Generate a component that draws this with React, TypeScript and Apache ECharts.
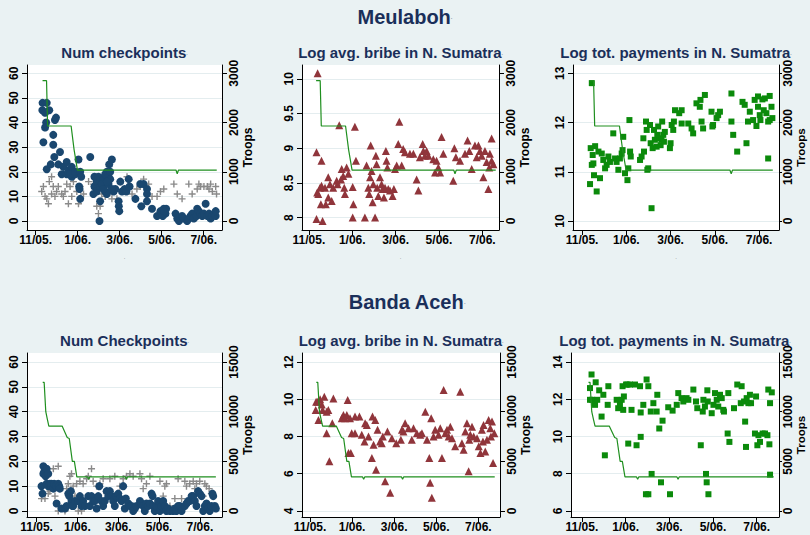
import React, { useEffect, useRef } from 'react';
import * as echarts from 'echarts';

// ---------- tick labels ----------
const monthTicks = [0, 2, 4, 6, 8];
const monthTickLabels = ['11/05.', '1/06.', '3/06.', '5/06.', '7/06.'];
const ticksCheckpoints = [0, 10, 20, 30, 40, 50, 60];
const ticksBribeTop = [8, 8.5, 9, 9.5, 10];
const ticksPaymentsTop = [10, 11, 12, 13];
const ticksBribeBottom = [4, 6, 8, 10, 12];
const ticksPaymentsBottom = [6, 8, 10, 12, 14];
const ticksTroopsTop = [0, 1000, 2000, 3000];
const ticksTroopsBottom = [0, 5000, 10000, 15000];

const rowTitles = ['Meulaboh', 'Banda Aceh'];
const panelTitles = [
  'Num checkpoints', 'Log avg. bribe in N. Sumatra', 'Log tot. payments in N. Sumatra',
  'Num Checkpoints', 'Log avg. bribe in N. Sumatra', 'Log tot. payments in N. Sumatra',
];

// ---------- data (x = months since Nov 1, 2005) ----------
const checkpointsMeulaboh = [
  [0.33,48],[0.53,48],[0.32,45],[0.65,45],[0.45,44],[0.50,40],[0.45,38],[0.37,32],[0.53,21],[0.72,23],
  [0.92,41],[0.97,42],[0.84,35],[0.84,31],[0.89,26],[1.16,28],[1.08,23],[1.32,22],[1.24,19],[1.48,24],
  [1.48,19],[1.64,21],[1.72,18],[1.80,20],[1.88,19],[1.56,20],[1.64,19],[1.72,22],[1.88,20],[2.04,25],
  [2.07,14],[2.09,13],[2.12,9],[2.12,20],[2.17,18],[2.60,26],[2.80,18],[2.80,14],[2.75,11],[2.91,16],
  [2.99,18],[2.91,12],[3.07,8],[3.04,0],[3.07,14],[3.23,17],[3.31,12],[3.39,11],[3.39,20],[3.47,18],
  [3.50,23],[3.63,25],[3.55,17],[3.71,12],[3.79,13],[3.15,15],[3.23,13],[3.31,19],[3.47,15],[3.55,20],
  [3.63,13],[3.39,16],[3.95,8],[3.96,6],[3.98,4],[4.03,16],[4.11,12],[4.24,13],[4.32,12],[4.43,17],
  [4.47,14],[4.75,9],[4.98,15],[5.14,15],[5.03,6],[5.30,13],[5.30,11],[5.30,8],[5.54,5],[5.78,2],
  [5.94,4],[6.10,5],[6.02,3],[6.18,3],[6.21,5],[6.05,2],[6.12,4],[6.66,3],[6.74,1],[6.82,0],
  [6.97,2],[7.05,1],[7.21,0],[7.29,1],[7.37,2],[7.45,3],[7.53,1],[7.66,2],[7.69,5],[7.77,4],
  [7.85,3],[7.93,2],[8.01,3],[8.09,7],[8.17,2],[8.25,3],[8.33,1],[8.41,2],[8.49,3],[8.57,2],[8.57,4],
];
const otherCheckpointsMeulaboh = [
  [0.29,12],[0.37,14],[0.45,10],[0.53,9],[0.61,7],[0.65,16],[0.76,18],[0.76,11],[0.84,14],[0.92,10],
  [1.00,12],[1.08,14],[1.24,11],[1.32,10],[1.40,12],[1.48,15],[1.56,7],[1.64,14],[1.72,10],[1.80,16],
  [1.96,12],[2.04,7],[2.12,14],[2.28,11],[2.52,16],[2.75,15],[2.91,6],[2.99,3],[3.07,6],[3.15,11],
  [3.31,10],[3.47,12],[3.63,9],[3.79,13],[3.87,9],[4.35,18],[4.59,11],[4.82,13],[4.98,14],[5.14,17],
  [5.38,15],[5.54,10],[5.78,10],[5.94,12],[6.10,13],[6.58,15],[6.74,11],[6.97,9],[7.29,15],[7.45,11],
  [7.69,13],[7.77,15],[7.85,14],[8.01,14],[8.17,14],[8.25,13],[8.33,15],[8.41,12],[8.57,14],[8.61,11],
];
const bribeMeulaboh = [
  [0.40,10.08],[0.35,8.94],[0.38,8.36],[0.43,8.34],[0.51,8.43],[0.58,8.82],[0.58,8.46],[0.55,8.19],[0.35,7.98],[0.63,7.95],
  [0.74,8.43],[0.78,8.19],[0.89,8.58],[0.89,8.29],[0.97,8.48],[1.05,8.24],[1.12,8.43],[1.28,8.53],[1.32,8.48],[1.40,9.33],
  [1.48,8.55],[1.51,8.70],[1.58,8.60],[1.63,8.43],[1.66,8.34],[1.74,8.72],[1.82,8.63],[2.02,8.44],[2.05,8.19],[2.02,8.0],
  [2.12,9.31],[2.17,8.82],[2.58,8.0],[2.66,8.75],[2.74,8.43],[2.78,8.34],[2.82,8.58],[2.85,9.04],[2.89,8.67],[2.94,8.22],
  [2.97,8.48],[3.05,8.0],[3.09,8.89],[3.12,8.77],[3.15,8.43],[3.2,8.31],[3.28,8.58],[3.35,8.48],[3.4,8.41],[3.46,8.29],
  [3.51,8.43],[3.55,8.96],[3.58,8.82],[3.62,8.72],[3.66,8.41],[3.74,8.39],[3.86,8.31],[3.92,8.41],[3.97,8.70],[4.05,8.75],
  [4.12,9.06],[4.17,9.38],[4.28,8.75],[4.35,8.99],[4.43,8.94],[4.66,8.92],[4.82,8.92],[4.97,8.55],[5.05,8.39],[5.12,8.87],
  [5.25,9.06],[5.28,8.96],[5.35,8.89],[5.43,8.96],[5.51,8.89],[5.74,8.84],[5.82,8.65],[5.89,8.82],[5.97,8.72],[6.05,8.65],
  [6.12,9.16],[6.2,8.92],[6.66,8.53],[6.71,9.0],[6.78,8.87],[6.97,8.82],[7.2,8.92],[7.32,9.11],[7.4,8.96],[7.51,8.70],
  [7.66,9.04],[7.74,8.87],[7.82,9.04],[7.89,8.96],[7.97,8.89],[8.05,8.58],[8.12,8.96],[8.2,8.80],[8.28,8.41],[8.32,8.72],
  [8.35,8.92],[8.43,9.14],[8.43,8.82],[8.51,8.77],
];
const paymentsMeulaboh = [
  [0.44,12.8],[0.39,11.48],[0.48,11.34],[0.44,11.14],[0.51,11.17],[0.36,10.75],[0.54,10.93],[0.66,10.6],[0.59,11.52],[0.74,11.41],
  [0.81,10.87],[0.89,11.37],[0.96,11.24],[1.04,11.07],[1.11,11.14],[1.19,11.31],[1.26,11.2],[1.41,11.78],[1.49,11.27],[1.56,11.2],
  [1.64,11.04],[1.71,11.27],[1.79,11.37],[1.83,11.44],[1.86,11.71],[1.94,10.97],[2.05,10.83],[2.09,11.07],[2.14,12.05],[2.17,11.41],
  [2.2,11.31],[2.62,11.24],[2.69,11.31],[2.77,11.68],[2.8,11.41],[2.89,12.02],[2.92,11.85],[2.95,11.04],[2.99,11.07],[3.07,11.95],
  [3.1,11.58],[3.14,10.26],[3.19,11.48],[3.25,11.85],[3.29,11.65],[3.37,11.51],[3.40,11.75],[3.44,11.92],[3.52,11.68],[3.55,11.54],
  [3.59,11.65],[3.62,12.02],[3.67,11.75],[3.7,11.61],[3.74,11.81],[3.97,11.48],[4.0,11.58],[4.05,11.95],[4.12,11.85],[4.15,12.02],
  [4.2,12.25],[4.39,12.19],[4.5,12.25],[4.5,11.98],[4.8,11.98],[4.95,11.88],[5.02,11.78],[5.17,12.39],[5.32,12.32],[5.35,12.46],
  [5.4,12.02],[5.47,11.88],[5.55,12.56],[5.85,12.22],[5.89,11.92],[5.92,11.95],[6.08,12.09],[6.15,12.15],[6.23,12.22],[6.75,12.59],
  [6.75,12.02],[6.83,11.75],[7.01,11.41],[7.25,12.42],[7.35,12.36],[7.43,11.58],[7.5,12.02],[7.58,12.22],[7.73,12.05],[7.8,12.46],
  [7.88,11.93],[7.95,12.53],[7.95,12.32],[8.03,12.15],[8.06,12.05],[8.15,12.47],[8.21,12.25],[8.26,12.49],[8.33,12.19],[8.41,12.02],
  [8.41,11.27],[8.48,12.54],[8.56,12.32],[8.6,12.09],[8.48,12.05],
];
const troopsMeulaboh = [
  [0.33,2850],[0.52,2850],[0.57,1930],[1.69,1930],[1.83,1450],[1.99,1035],[6.68,1035],[6.74,960],[6.80,1035],[8.62,1035],
];

const checkpointsBandaAceh = [
  [0.24,10],[0.29,7],[0.33,18],[0.38,16],[0.33,15],[0.44,14],[0.49,17],[0.57,15],[0.49,11],[0.57,10],
  [0.65,11],[0.73,10],[0.73,11],[0.82,9],[0.86,11],[0.95,10],[0.98,3],[1.06,11],[1.11,10],[1.14,9],
  [1.22,1],[1.39,1],[1.47,2],[1.55,7],[1.60,6],[1.68,8],[1.71,4],[1.76,2],[1.79,2],[1.88,4],
  [2.04,4],[2.12,6],[2.2,2],[2.28,4],[2.37,2],[2.53,6],[2.61,2],[2.69,6],[2.77,4],[2.85,4],
  [2.94,1],[3.02,6],[3.07,10],[3.18,4],[3.26,2],[3.34,4],[3.43,8],[3.51,6],[3.59,8],[3.67,6],
  [3.75,4],[3.83,2],[3.88,6],[4.0,7],[4.08,5],[4.16,4],[4.24,10],[4.32,1],[4.37,5],[4.49,3],
  [4.57,2],[4.65,2],[4.73,0],[4.81,1],[4.89,2],[5.06,4],[5.14,3],[5.22,2],[5.3,0],[5.38,3],
  [5.46,2],[5.55,3],[5.63,7],[5.68,6],[5.71,2],[5.79,0],[5.87,2],[5.95,4],[6.04,0],[6.12,2],
  [6.2,4],[6.28,2],[6.36,0],[6.44,1],[6.53,0],[6.69,0],[6.77,1],[6.85,0],[6.93,2],[7.01,2],
  [7.1,0],[7.26,2],[7.34,3],[7.42,4],[7.5,4],[7.59,6],[7.67,6],[7.75,4],[7.83,2],[7.91,8],
  [7.99,7],[8.08,6],[8.16,0],[8.24,2],[8.32,3],[8.4,1],[8.48,0],[8.56,2],[8.61,7],[8.65,6],[8.73,2],[8.78,1],
];
const otherCheckpointsBandaAceh = [
  [0.24,5],[0.41,5],[0.57,7],[0.65,8],[0.82,17],[0.90,6],[1.06,18],[1.06,0],[1.22,1],[1.39,0],
  [1.47,9],[1.55,11],[1.63,14],[1.71,15],[1.79,10],[1.88,6],[1.96,11],[2.04,0],[2.12,12],[2.2,0],
  [2.28,11],[2.45,13],[2.53,14],[2.69,17],[2.77,12],[2.94,10],[3.10,11],[3.26,13],[3.43,7],[3.59,13],
  [3.83,14],[4.0,7],[4.08,10],[4.24,13],[4.4,14],[4.57,15],[4.73,14],[5.06,15],[5.14,13],[5.22,9],
  [5.38,11],[5.55,14],[6.04,12],[6.2,6],[6.28,10],[6.36,11],[6.53,2],[6.77,5],[6.93,13],[7.1,5],
  [7.26,12],[7.34,10],[7.5,11],[7.67,12],[7.75,9],[7.83,11],[7.99,12],[8.16,6],[8.24,11],[8.32,10],
  [8.45,9],[8.56,7],[8.65,6],
];
const bribeBandaAceh = [
  [0.27,9.42],[0.29,9.87],[0.40,8.89],[0.37,9.87],[0.48,10.0],[0.56,9.72],[0.60,9.42],[0.68,10.13],[0.79,9.33],[0.87,9.42],
  [0.79,8.18],[0.92,6.67],[1.06,8.71],[1.11,10.04],[1.51,8.98],[1.59,9.16],[1.67,8.98],[1.75,9.16],[1.79,9.96],[1.83,7.11],
  [1.90,8.98],[1.94,7.11],[1.98,8.18],[2.14,8.18],[2.14,9.07],[2.35,9.07],[2.46,8.09],[2.59,7.73],[2.62,8.71],[2.70,8.62],
  [2.78,8.0],[2.94,6.84],[2.97,9.07],[3.02,7.56],[3.10,8.89],[3.14,6.22],[3.21,8.36],[3.33,7.73],[3.41,7.64],[3.46,8.0],
  [3.57,5.6],[3.68,8.27],[3.81,4.98],[3.89,7.91],[4.10,7.64],[4.32,7.82],[4.37,8.36],[4.44,8.27],[4.52,8.71],[4.68,8.44],
  [4.84,7.82],[4.92,8.44],[5.08,8.18],[5.24,8.09],[5.32,8.18],[5.48,9.33],[5.56,7.82],[5.67,6.84],[5.71,5.51],[5.76,8.98],
  [5.79,4.71],[5.87,8.0],[5.95,8.36],[6.11,8.09],[6.19,8.44],[6.27,6.84],[6.35,10.49],[6.43,8.18],[6.51,8.36],[6.59,8.0],
  [6.67,8.53],[6.75,7.91],[6.9,7.47],[7.14,10.4],[7.22,7.64],[7.3,7.29],[7.38,8.27],[7.46,8.71],[7.54,6.13],[7.57,7.82],
  [7.62,8.09],[7.70,8.53],[7.78,8.0],[7.94,7.91],[8.02,7.47],[8.10,7.11],[8.17,8.36],[8.22,7.73],[8.25,8.62],[8.33,7.2],
  [8.41,7.82],[8.49,8.89],[8.57,8.44],[8.60,8.0],[8.65,8.8],[8.70,6.58],[8.76,8.18],
];
const paymentsBandaAceh = [
  [0.37,12.6],[0.44,13.33],[0.37,11.97],[0.47,11.97],[0.56,11.79],[0.63,12.91],[0.6,11.7],[0.7,11.97],[0.79,12.48],[0.9,11.07],
  [0.98,12.24],[1.05,8.99],[1.18,11.7],[1.21,12.7],[1.59,11.97],[1.66,11.52],[1.74,11.7],[1.82,11.97],[1.86,12.7],[1.89,11.43],
  [1.92,12.15],[2.02,12.79],[2.08,12.79],[2.12,9.62],[2.2,12.79],[2.27,11.43],[2.43,12.79],[2.5,9.53],[2.66,12.7],[2.69,11.29],
  [2.69,9.98],[2.81,11.7],[2.96,13.06],[3.04,12.7],[2.93,6.9],[3.04,6.9],[3.15,11.34],[3.19,7.99],[3.27,11.79],[3.42,11.34],
  [3.45,12.24],[3.54,10.43],[3.62,7.54],[3.69,10.85],[3.95,11.57],[4.03,6.9],[4.15,11.39],[4.34,11.7],[4.41,12.33],[4.56,12.06],
  [4.64,11.88],[4.79,12.06],[4.87,11.97],[5.1,12.52],[5.22,11.88],[5.28,11.52],[5.44,9.53],[5.53,11.34],[5.56,11.97],[5.63,11.61],
  [5.68,7.99],[5.71,7.54],[5.74,12.48],[5.79,6.9],[5.76,11.88],[5.94,11.25],[6.02,11.7],[6.09,12.33],[6.17,11.97],[6.24,11.61],
  [6.32,12.24],[6.4,12.06],[6.47,11.43],[6.5,11.34],[6.67,10.16],[6.7,12.33],[6.75,9.71],[6.96,11.52],[7.11,12.79],[7.31,12.7],
  [7.27,11.79],[7.42,11.88],[7.47,10.8],[7.51,9.44],[7.54,12.06],[7.62,11.79],[7.69,12.24],[7.74,11.79],[7.92,10.16],[7.97,12.15],
  [8.03,9.53],[8.08,10.07],[8.15,9.71],[8.27,10.16],[8.38,10.16],[8.49,10.07],[8.53,12.52],[8.58,9.58],[8.61,11.79],[8.69,12.37],[8.61,7.95],
];
const troopsBandaAceh = [
  [0.30,12950],[0.37,12950],[0.45,10000],[0.52,9300],[0.60,8550],[1.25,8550],[1.50,7400],[1.60,7300],[1.75,5000],[1.85,5000],
  [1.97,3430],[2.50,3430],[2.55,3200],[2.60,3430],[4.35,3430],[4.40,3200],[4.45,3430],[8.78,3430],
];

// ---------- styling ----------
const FONT = "'Liberation Sans', Arial, Helvetica, sans-serif";
const BG = '#eaf2f3';
const NAVY = '#1a2f5a';
const BLUE = '#1a476f';
const MAROON = '#90353b';
const GREEN = '#0b8a0b';
const LINE_GREEN = '#1f8f1f';
const GRAY = '#8a8a8a';
const PLUS = 'path://M4,0L6,0L6,4L10,4L10,6L6,6L6,10L4,10L4,6L0,6L0,4L4,4Z';

function extend(lo: number, hi: number, ft: number, fb: number): [number, number] {
  const s = hi - lo;
  return [lo - fb * s, hi + ft * s];
}

const rowMargins = [
  { ft: 0.0562, fb: 0.0609 },
  { ft: 0.0604, fb: 0.0403 },
];

const panels = [
  { row: 0, col: 0, grid: { left: 27, top: 65, width: 195, height: 165 }, x: [-0.41, 8.87], left: [0, 60], lt: ticksCheckpoints, right: [0, 3000], rt: ticksTroopsTop,
    scatter: [
      { data: otherCheckpointsMeulaboh, symbol: PLUS, size: 7, color: GRAY },
      { data: checkpointsMeulaboh, symbol: 'circle', size: 8, color: BLUE },
    ], troops: troopsMeulaboh },
  { row: 0, col: 1, grid: { left: 302, top: 65, width: 197, height: 165 }, x: [-0.32, 8.77], left: [7.95, 10.08], lt: ticksBribeTop, right: [0, 3000], rt: ticksTroopsTop,
    scatter: [{ data: bribeMeulaboh, symbol: 'triangle', size: 8, color: MAROON }], troops: troopsMeulaboh },
  { row: 0, col: 2, grid: { left: 573, top: 65, width: 206, height: 165 }, x: [-0.41, 8.9], left: [10, 13], lt: ticksPaymentsTop, right: [0, 3000], rt: ticksTroopsTop,
    scatter: [{ data: paymentsMeulaboh, symbol: 'rect', size: 6, color: GREEN }], troops: troopsMeulaboh },
  { row: 1, col: 0, grid: { left: 27, top: 353, width: 195, height: 164 }, x: [-0.47, 9.08], left: [0, 60], lt: ticksCheckpoints, right: [0, 15000], rt: ticksTroopsBottom,
    scatter: [
      { data: otherCheckpointsBandaAceh, symbol: PLUS, size: 7, color: GRAY },
      { data: checkpointsBandaAceh, symbol: 'circle', size: 8, color: BLUE },
    ], troops: troopsBandaAceh },
  { row: 1, col: 1, grid: { left: 302, top: 353, width: 198, height: 164 }, x: [-0.38, 9.03], left: [4, 12], lt: ticksBribeBottom, right: [0, 15000], rt: ticksTroopsBottom,
    scatter: [{ data: bribeBandaAceh, symbol: 'triangle', size: 8, color: MAROON }], troops: troopsBandaAceh },
  { row: 1, col: 2, grid: { left: 571, top: 353, width: 208, height: 164 }, x: [-0.5, 9.02], left: [6, 14], lt: ticksPaymentsBottom, right: [0, 15000], rt: ticksTroopsBottom,
    scatter: [{ data: paymentsBandaAceh, symbol: 'rect', size: 6, color: GREEN }], troops: troopsBandaAceh },
];

function buildOption() {
  const grids: any[] = [];
  const xAxes: any[] = [];
  const yAxes: any[] = [];
  const series: any[] = [];
  const titles: any[] = [];

  const axisLine = { show: true, onZero: false, lineStyle: { color: '#000', width: 1 } };
  const labelBase = { color: '#000', fontFamily: FONT, fontWeight: 'bold', fontSize: 12 };
  const dotStyle = { fontSize: 6, color: '#8894a8', fontFamily: FONT };

  titles.push({
    text: `{t|${rowTitles[0]}}{d|.}`, left: 405, top: 7, textAlign: 'center', padding: 0,
    textStyle: { rich: { t: { fontFamily: FONT, fontWeight: 'bold', fontSize: 20, color: NAVY }, d: dotStyle } },
  });
  titles.push({
    text: `{t|${rowTitles[1]}}{d|.}`, left: 407, top: 292, textAlign: 'center', padding: 0,
    textStyle: { rich: { t: { fontFamily: FONT, fontWeight: 'bold', fontSize: 20, color: NAVY }, d: dotStyle } },
  });

  panels.forEach((p, i) => {
    const m = rowMargins[p.row];
    const lastCol = p.col === 2;
    grids.push({ ...p.grid, show: true, backgroundColor: '#ffffff', borderWidth: 0, containLabel: false, outerBoundsMode: 'none' });
    titles.push({
      text: `{t|${panelTitles[i]}}{d|.}`,
      left: p.grid.left + p.grid.width / 2, top: p.row === 0 ? 45 : 333, textAlign: 'center', padding: 0,
      textStyle: { rich: { t: { fontFamily: FONT, fontWeight: 'bold', fontSize: 15, color: NAVY }, d: { ...dotStyle, fontSize: 5 } } },
    });
    xAxes.push({
      gridIndex: i, type: 'value', min: p.x[0], max: p.x[1],
      axisLine,
      axisTick: { show: true, customValues: monthTicks, length: 5, lineStyle: { color: '#000' } },
      axisLabel: { ...labelBase, customValues: monthTicks, margin: 4,
        formatter: (v: number) => { const k = monthTicks.indexOf(v); return k >= 0 ? monthTickLabels[k] : ''; } },
      splitLine: { show: false },
      name: p.row === 0 ? '.' : '', nameLocation: 'middle', nameGap: 24, nameTextStyle: { fontSize: 6, color: '#777' },
    });
    const [lmin, lmax] = extend(p.left[0], p.left[1], m.ft, m.fb);
    yAxes.push({
      gridIndex: i, type: 'value', position: 'left', min: lmin, max: lmax,
      axisLine,
      axisTick: { show: true, customValues: p.lt, length: 5, lineStyle: { color: '#000' } },
      axisLabel: { ...labelBase, customValues: p.lt, rotate: 90, margin: 7, formatter: (v: number) => String(v) },
      splitLine: { show: true, lineStyle: { color: '#e4edef', width: 1 } },
    });
    const [rmin, rmax] = extend(p.right[0], p.right[1], m.ft, m.fb);
    yAxes.push({
      gridIndex: i, type: 'value', position: 'right', min: rmin, max: rmax,
      axisLine,
      axisTick: { show: true, customValues: p.rt, length: lastCol ? 3 : 5, lineStyle: { color: '#000' } },
      axisLabel: { ...labelBase, customValues: p.rt, rotate: 90, margin: lastCol ? 3 : 6, formatter: (v: number) => String(v) },
      splitLine: { show: false },
      name: 'Troops', nameLocation: 'middle', nameGap: lastCol ? 11 : 20, nameRotate: 90,
      nameTextStyle: { fontFamily: FONT, fontWeight: 'bold', fontSize: lastCol ? 11.5 : 12, color: '#000' },
    });
    p.scatter.forEach((s) => {
      series.push({
        type: 'scatter', xAxisIndex: i, yAxisIndex: 2 * i, data: s.data,
        symbol: s.symbol, symbolSize: s.size, itemStyle: { color: s.color, opacity: 1 }, z: 3,
      });
    });
    series.push({
      type: 'line', xAxisIndex: i, yAxisIndex: 2 * i + 1, data: p.troops, showSymbol: false, symbol: 'none',
      lineStyle: { color: LINE_GREEN, width: 1.2 }, z: 4,
    });
  });

  return {
    animation: false,
    backgroundColor: BG,
    title: titles,
    grid: grids,
    xAxis: xAxes,
    yAxis: yAxes,
    series,
  };
}

export default function App() {
  const ref = useRef<HTMLDivElement>(null);
  useEffect(() => {
    const chart = echarts.init(ref.current!, null, { renderer: 'svg' });
    chart.setOption(buildOption() as any);
    return () => chart.dispose();
  }, []);
  return (
    <div
      ref={ref}
      style={{ position: 'fixed', left: 0, top: 0, width: 810, height: 535, background: BG }}
    />
  );
}
